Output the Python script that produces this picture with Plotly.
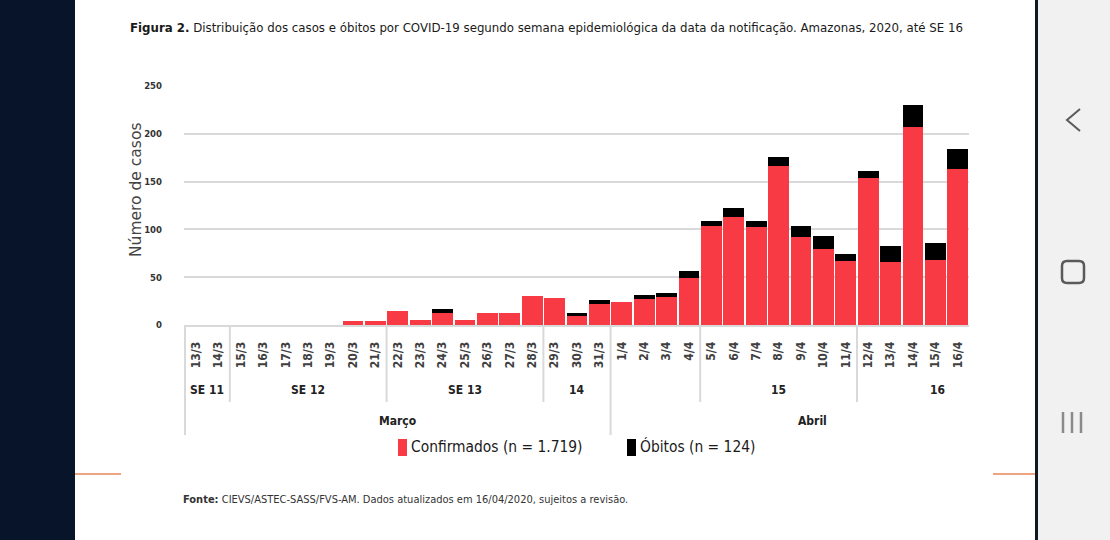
import plotly.graph_objects as go

# dados (Amazonas, ate SE 16)
dias = ['13/3', '14/3', '15/3', '16/3', '17/3', '18/3', '19/3', '20/3', '21/3',
        '22/3', '23/3', '24/3', '25/3', '26/3', '27/3', '28/3', '29/3', '30/3', '31/3',
        '1/4', '2/4', '3/4', '4/4', '5/4', '6/4', '7/4', '8/4', '9/4', '10/4', '11/4',
        '12/4', '13/4', '14/4', '15/4', '16/4']
confirmados = [0, 0, 0, 0, 0, 0, 0, 4, 4,
               15, 5, 13, 5, 13, 13, 30, 28, 9, 22,
               24, 27, 29, 49, 104, 113, 102, 166, 92, 80, 67,
               154, 66, 207, 68, 163]
obitos = [0, 0, 0, 0, 0, 0, 0, 0, 0,
          0, 0, 4, 0, 0, 0, 0, 0, 4, 4,
          0, 4, 4, 8, 5, 9, 7, 10, 12, 13, 7,
          7, 17, 23, 18, 21]

semanas = ['SE 11', 'SE 12', 'SE 13', '14', '15', '16']
semanas_pos = [0.5, 5, 12, 17, 26, 33.1]
meses = ['Março', 'Abril']
meses_pos = [9, 27.5]
div_semana = [1.5, 8.5, 15.5, 22.5, 29.5]
div_mes = [-0.5, 18.5]

W, H = 1110, 540
def px(x):
    return x / W
def py(y):
    return 1 - y / H

NARROW = 'DejaVu Sans Condensed, sans-serif'
VERMELHO = '#f73a43'

fig = go.Figure()
fig.add_trace(go.Bar(x=dias, y=confirmados, name='Confirmados',
                     marker=dict(color=VERMELHO, line=dict(width=0))))
fig.add_trace(go.Bar(x=dias, y=obitos, name='Óbitos',
                     marker=dict(color='#000000', line=dict(width=0))))

fig.update_layout(
    width=W, height=H,
    margin=dict(l=0, r=0, t=0, b=0, pad=0),
    paper_bgcolor='white', plot_bgcolor='white',
    barmode='stack', bargap=0.07,
    showlegend=False,
    xaxis=dict(domain=[px(184), px(969)], type='category', automargin=False,
               tickangle=-90, ticks='', showgrid=False,
               showline=True, linecolor='#d9d9d9', linewidth=2,
               tickfont=dict(family=NARROW, size=12, color='#404040', weight='bold'),
               ticklabelstandoff=10),
    yaxis=dict(domain=[py(325), py(86)], range=[0, 250], automargin=False,
               tickvals=[0, 50, 100, 150, 200, 250], ticks='',
               showgrid=True, gridcolor='#d9d9d9', gridwidth=2,
               zeroline=False, showline=False,
               tickfont=dict(family=NARROW, size=9.5, color='#333333', weight='bold'),
               ticklabelstandoff=21),
)

shapes = []
# fundo da tela do celular
shapes.append(dict(type='rect', xref='paper', yref='paper', x0=0, x1=px(75), y0=0, y1=1,
                   fillcolor='#08142a', line=dict(width=0), layer='below'))
shapes.append(dict(type='rect', xref='paper', yref='paper', x0=px(1035), x1=1, y0=0, y1=1,
                   fillcolor='#f1f1f1', line=dict(width=0), layer='below'))
shapes.append(dict(type='line', xref='paper', yref='paper', x0=px(1036.5), x1=px(1036.5), y0=0, y1=1,
                   line=dict(color='#0d1a26', width=3)))
# linhas laranja
for a, b in [(75, 121), (993, 1035)]:
    shapes.append(dict(type='line', xref='paper', yref='paper', x0=px(a), x1=px(b),
                       y0=py(474), y1=py(474), line=dict(color='#e8865a', width=1.5)))
# divisores do eixo hierarquico
for d in div_semana:
    shapes.append(dict(type='line', xref='x', yref='paper', x0=d, x1=d,
                       y0=py(327), y1=py(402), line=dict(color='#d9d9d9', width=2)))
for d in div_mes:
    shapes.append(dict(type='line', xref='x', yref='paper', x0=d, x1=d,
                       y0=py(327), y1=py(435), line=dict(color='#d9d9d9', width=2)))
# legenda
shapes.append(dict(type='rect', xref='paper', yref='paper', x0=px(398), x1=px(407),
                   y0=py(456), y1=py(439), fillcolor=VERMELHO, line=dict(width=0)))
shapes.append(dict(type='rect', xref='paper', yref='paper', x0=px(627), x1=px(636),
                   y0=py(456), y1=py(439), fillcolor='#000000', line=dict(width=0)))
# icones de navegacao
nav = '#5a5a5a'
shapes.append(dict(type='path', xref='paper', yref='paper',
                   path='M %f,%f L %f,%f L %f,%f' % (px(1080), py(109), px(1067), py(120), px(1080), py(131)),
                   line=dict(color=nav, width=2)))
x0, x1, y0, y1, r = 1062, 1084, 261, 283, 5
path = ('M %f,%f L %f,%f Q %f,%f %f,%f L %f,%f Q %f,%f %f,%f L %f,%f Q %f,%f %f,%f L %f,%f Q %f,%f %f,%f Z' % (
    px(x0 + r), py(y0), px(x1 - r), py(y0), px(x1), py(y0), px(x1), py(y0 + r),
    px(x1), py(y1 - r), px(x1), py(y1), px(x1 - r), py(y1),
    px(x0 + r), py(y1), px(x0), py(y1), px(x0), py(y1 - r),
    px(x0), py(y0 + r), px(x0), py(y0), px(x0 + r), py(y0)))
shapes.append(dict(type='path', xref='paper', yref='paper', path=path, line=dict(color=nav, width=2.5)))
for xx in [1063, 1072, 1081]:
    shapes.append(dict(type='line', xref='paper', yref='paper', x0=px(xx), x1=px(xx),
                       y0=py(412), y1=py(433), line=dict(color='#8a8a8a', width=2.5)))
fig.update_layout(shapes=shapes)

ann = []
ann.append(dict(text='<b>Figura 2.</b> Distribuição dos casos e óbitos por COVID-19 segundo semana '
                     'epidemiológica da data da notificação. Amazonas, 2020, até SE 16',
                xref='paper', yref='paper', x=px(128), y=py(27), xanchor='left', yanchor='middle',
                showarrow=False, font=dict(family=NARROW, size=13.1, color='#1a1a1a')))
ann.append(dict(text='Número de casos', textangle=-90, xref='paper', yref='paper',
                x=px(136), y=py(190), xanchor='center', yanchor='middle', showarrow=False,
                font=dict(family='DejaVu Sans', size=15.5, color='#444444')))
for s, p in zip(semanas, semanas_pos):
    ann.append(dict(text=s, xref='x', yref='paper', x=p, y=py(390), yanchor='middle',
                    showarrow=False, font=dict(family=NARROW, size=12, color='#222222', weight='bold')))
for m, p in zip(meses, meses_pos):
    ann.append(dict(text=m, xref='x', yref='paper', x=p, y=py(421), yanchor='middle',
                    showarrow=False, font=dict(family=NARROW, size=12, color='#222222', weight='bold')))
ann.append(dict(text='Confirmados (n = 1.719)', xref='paper', yref='paper', x=px(409), y=py(447),
                xanchor='left', yanchor='middle', showarrow=False,
                font=dict(family=NARROW, size=15.4, color='#1a1a1a')))
ann.append(dict(text='Óbitos (n = 124)', xref='paper', yref='paper', x=px(638), y=py(447),
                xanchor='left', yanchor='middle', showarrow=False,
                font=dict(family=NARROW, size=15.4, color='#1a1a1a')))
ann.append(dict(text='<b>Fonte:</b> CIEVS/ASTEC-SASS/FVS-AM. Dados atualizados em 16/04/2020, sujeitos a revisão.',
                xref='paper', yref='paper', x=px(181), y=py(499), xanchor='left', yanchor='middle',
                showarrow=False, font=dict(family=NARROW, size=11, color='#333333')))
fig.update_layout(annotations=ann)

fig.write_html('out.html', config={'displayModeBar': False},
               post_script="document.body.style.margin='0';")
print('plot complete.')
